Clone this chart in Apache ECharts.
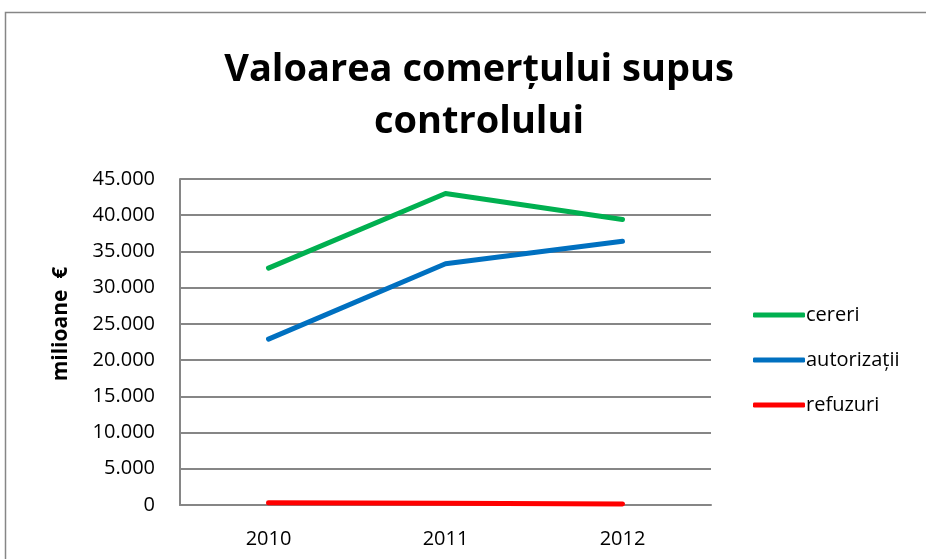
<!DOCTYPE html>
<html style="height: 100%">
<head>
    <meta charset="utf-8">
</head>
<body style="height: 100%; margin: 0; background: #fff">
    <div id="container" style="height: 100%"></div>
    <script type="text/javascript" src="https://cdn.jsdelivr.net/npm/echarts@6.0.0/dist/echarts.min.js"></script>
    <script type="text/javascript">
        // date (milioane €)
        var years = ['2010', '2011', '2012'];
        var cereri = [32700, 43000, 39400];
        var autorizatii = [22900, 33300, 36400];
        var refuzuri = [300, 230, 150];

        var font = '"Open Sans", "Noto Sans", sans-serif';

        var dom = document.getElementById("container");
        var myChart = echarts.init(dom);

        function fmt(v) {
            return String(v).replace(/\B(?=(\d{3})+(?!\d))/g, '.');
        }

        function lineSeries(name, data, color) {
            return {
                name: name,
                type: 'line',
                data: data,
                symbol: 'none',
                lineStyle: { color: color, width: 5, cap: 'round', join: 'round' },
                itemStyle: { color: color }
            };
        }

        var option = {
            animation: false,
            textStyle: { fontFamily: font },
            title: {
                text: 'Valoarea comerțului supus\ncontrolului',
                left: 474,
                textAlign: 'center',
                top: 39,
                textStyle: {
                    fontFamily: font,
                    fontSize: 38,
                    fontWeight: 'bold',
                    lineHeight: 52,
                    color: '#000'
                }
            },
            graphic: [{
                type: 'rect',
                shape: { x: 5.5, y: 12.5, width: 940, height: 600 },
                style: { fill: 'none', stroke: '#868686', lineWidth: 1.5 },
                silent: true
            }],
            legend: {
                orient: 'vertical',
                left: 748,
                top: 300,
                itemWidth: 52,
                itemHeight: 5,
                itemGap: 25,
                icon: 'roundRect',
                textStyle: { fontSize: 20, color: '#000', padding: [0, 0, 0, -4] },
                data: ['cereri', 'autorizații', 'refuzuri']
            },
            grid: { left: 180, right: 215, top: 179, bottom: 54 },
            xAxis: {
                type: 'category',
                data: years,
                boundaryGap: true,
                axisLine: { lineStyle: { color: '#868686', width: 2 } },
                axisTick: { show: false },
                axisLabel: { fontSize: 20, color: '#000', margin: 24 }
            },
            yAxis: {
                type: 'value',
                min: 0,
                max: 45000,
                interval: 5000,
                name: 'milioane  €',
                nameLocation: 'middle',
                nameGap: 108,
                nameTextStyle: { fontSize: 21, fontWeight: 'bold', color: '#000', padding: [0, 0, 0, 36] },
                axisLine: { show: true, lineStyle: { color: '#868686', width: 2 } },
                axisTick: { show: false },
                splitLine: { lineStyle: { color: '#868686', width: 2 } },
                axisLabel: { fontSize: 20, color: '#000', margin: 25, formatter: fmt }
            },
            series: [
                lineSeries('cereri', cereri, '#00b050'),
                lineSeries('autorizații', autorizatii, '#0070c0'),
                lineSeries('refuzuri', refuzuri, '#ff0000')
            ]
        };

        myChart.setOption(option, true);
    </script>
</body>
</html>
